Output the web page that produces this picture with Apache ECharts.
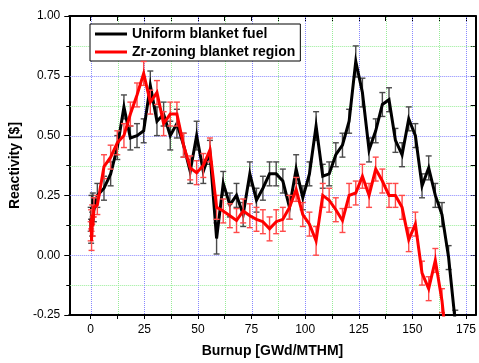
<!DOCTYPE html>
<html>
<head>
<meta charset="utf-8">
<style>
  html, body { margin: 0; padding: 0; background: #fff; }
  #chart { width: 479px; height: 363px; }
</style>
<script src="https://cdn.jsdelivr.net/npm/echarts@6/dist/echarts.min.js"></script>
</head>
<body>
<div id="chart"></div>
<script>
// ---- data ----
const burnup = [0, 0.2, 0.4, 0.7, 1.0, 1.5,
  3.1, 6.2, 9.3, 12.4, 15.5, 18.5, 21.6, 24.7, 27.8, 30.9,
  34.0, 37.1, 40.2, 43.3, 46.4, 49.4, 52.5, 55.6, 58.7, 61.8,
  64.9, 68.0, 71.1, 74.2, 77.3, 80.3, 83.4, 86.5, 89.6, 92.7,
  95.8, 98.9, 102.0, 105.1, 108.2, 111.2, 114.3, 117.4, 120.5, 123.6,
  126.7, 129.8, 132.9, 136.0, 139.1, 142.1, 145.2, 148.3, 151.4, 154.5,
  157.6, 160.7, 163.8, 166.9, 170.0];

const uniformFuel = [0.15, 0.10, 0.20, 0.13, 0.21, 0.19,
  0.25, 0.28, 0.34, 0.45, 0.62, 0.49, 0.50, 0.52, 0.71, 0.56,
  0.59, 0.50, 0.55, 0.46, 0.35, 0.50, 0.35, 0.43, 0.07, 0.30,
  0.21, 0.25, 0.17, 0.34, 0.23, 0.28, 0.34, 0.34, 0.31, 0.20,
  0.36, 0.24, 0.34, 0.54, 0.33, 0.34, 0.42, 0.46, 0.56, 0.81,
  0.68, 0.44, 0.52, 0.63, 0.65, 0.48, 0.42, 0.57, 0.50, 0.29,
  0.365, 0.25, 0.17, -0.01, -0.28];

const uniformErr = [0.05, 0.05, 0.05, 0.05, 0.05, 0.05,
  0.05, 0.05, 0.05, 0.05, 0.05, 0.05, 0.05, 0.05, 0.06, 0.06,
  0.05, 0.06, 0.06, 0.05, 0.05, 0.06, 0.05, 0.05, 0.065, 0.05,
  0.05, 0.05, 0.05, 0.05, 0.05, 0.05, 0.05, 0.05, 0.05, 0.05,
  0.06, 0.05, 0.05, 0.06, 0.05, 0.05, 0.05, 0.05, 0.05, 0.065,
  0.06, 0.05, 0.05, 0.05, 0.05, 0.05, 0.05, 0.05, 0.05, 0.05,
  0.05, 0.05, 0.05, 0.05, 0.05];

const zrZoning = [0.10, 0.15, 0.06, 0.17, 0.12, 0.20,
  0.21, 0.37, 0.41, 0.47, 0.50, 0.59, 0.67, 0.76, 0.64, 0.68,
  0.55, 0.59, 0.59, 0.46, 0.365, 0.345, 0.375, 0.44, 0.20, 0.185,
  0.165, 0.145, 0.185, 0.165, 0.15, 0.14, 0.11, 0.14, 0.15, 0.20,
  0.275, 0.17, 0.13, 0.06, 0.25, 0.23, 0.19, 0.145, 0.25, 0.26,
  0.33, 0.25, 0.36, 0.31, 0.25, 0.25, 0.20, 0.065, 0.13, -0.075,
  -0.14, -0.022, -0.19, -0.45];

const zrErr = [0.04, 0.04, 0.04, 0.04, 0.04, 0.04,
  0.04, 0.05, 0.05, 0.05, 0.05, 0.05, 0.05, 0.05, 0.05, 0.05,
  0.05, 0.05, 0.05, 0.05, 0.05, 0.05, 0.05, 0.05, 0.05, 0.05,
  0.05, 0.05, 0.05, 0.05, 0.05, 0.05, 0.05, 0.05, 0.05, 0.05,
  0.05, 0.05, 0.05, 0.06, 0.05, 0.05, 0.05, 0.05, 0.05, 0.05,
  0.05, 0.05, 0.05, 0.05, 0.05, 0.05, 0.05, 0.05, 0.05, 0.05,
  0.05, 0.05, 0.05, 0.05];

const xMajorTicks = [0, 25, 50, 75, 100, 125, 150, 175];
const xMinorTicks = [12.5, 37.5, 62.5, 87.5, 112.5, 137.5, 162.5];
const xAllTicks = [0, 12.5, 25, 37.5, 50, 62.5, 75, 87.5, 100, 112.5, 125, 137.5, 150, 162.5, 175];
const yMajorTicks = [-0.25, 0, 0.25, 0.5, 0.75, 1.0];
const yMinorTicks = [-0.125, 0.125, 0.375, 0.625, 0.875];

const seriesNames = ['Uniform blanket fuel', 'Zr-zoning blanket region'];

// ---- build chart ----
const FONT = 'Liberation Sans, Arial, sans-serif';
const BLUE = '#8888ff';
const GREEN = '#98ec98';
const XMIN = -10, XMAX = 179.5;

function pairs(xs, ys) { return ys.map((v, i) => [xs[i], v]); }
function errRows(xs, ys, es) { return ys.map((v, i) => [xs[i], v - es[i], v + es[i]]); }

function errRenderer(color) {
  return function (params, api) {
    const x = api.value(0);
    const lo = api.coord([x, api.value(1)]);
    const hi = api.coord([x, api.value(2)]);
    const c = 3;
    const st = { stroke: color, lineWidth: 1.4 };
    return {
      type: 'group',
      children: [
        { type: 'line', shape: { x1: lo[0], y1: lo[1], x2: hi[0], y2: hi[1] }, style: st },
        { type: 'line', shape: { x1: lo[0] - c, y1: lo[1], x2: lo[0] + c, y2: lo[1] }, style: st },
        { type: 'line', shape: { x1: hi[0] - c, y1: hi[1], x2: hi[0] + c, y2: hi[1] }, style: st }
      ]
    };
  };
}

// dotted grid lines placed through the axes' scales, snapped to pixel centres
function vGrid(name, values, color) {
  return {
    type: 'custom', name: name, silent: true, z: 1, clip: false,
    data: values.map(v => [v, 0]), encode: { x: 0, y: 1 },
    renderItem: function (params, api) {
      const cs = params.coordSys;
      const p = api.coord([api.value(0), 0]);
      const x = Math.round(p[0]) + 0.5;
      return { type: 'line', shape: { x1: x, y1: cs.y + 1, x2: x, y2: cs.y + cs.height - 1 },
        style: { stroke: color, lineWidth: 1, lineDash: [1, 1] } };
    }
  };
}
function hGrid(name, values, color) {
  return {
    type: 'custom', name: name, silent: true, z: 1, clip: false,
    data: values.map(v => [0, v]), encode: { x: 0, y: 1 },
    renderItem: function (params, api) {
      const cs = params.coordSys;
      const p = api.coord([0, api.value(1)]);
      const y = Math.round(p[1]) + 0.5;
      return { type: 'line', shape: { x1: cs.x + 1, y1: y, x2: cs.x + cs.width - 1, y2: y },
        style: { stroke: color, lineWidth: 1, lineDash: [1, 1] } };
    }
  };
}

const axisLineStyle = { show: true, onZero: false, lineStyle: { color: '#000', width: 2 } };

const chart = echarts.init(document.getElementById('chart'), null, { renderer: 'canvas' });
chart.setOption({
  animation: false,
  backgroundColor: '#fff',
  textStyle: { fontFamily: FONT },
  grid: { left: 69, right: 1, top: 16, bottom: 45, containLabel: false },
  legend: {
    orient: 'vertical',
    left: 90, top: 24,
    padding: [3, 5, 2, 5],
    itemWidth: 32, itemHeight: 14, itemGap: 4,
    backgroundColor: '#fff',
    borderColor: '#000', borderWidth: 1, borderRadius: 0,
    icon: 'path://M0 0H32V3H0Z',
    data: seriesNames,
    textStyle: { fontFamily: FONT, fontWeight: 'bold', fontSize: 14, color: '#000' }
  },
  xAxis: [
    {
      type: 'value', position: 'bottom', min: XMIN, max: XMAX,
      name: 'Burnup [GWd/MTHM]', nameLocation: 'middle', nameGap: 29,
      nameTextStyle: { fontFamily: FONT, fontWeight: 'bold', fontSize: 14, color: '#000' },
      axisLine: axisLineStyle,
      axisTick: { show: true, inside: false, length: 4, interval: 0, customValues: xAllTicks, lineStyle: { color: '#000', width: 1 } },
      axisLabel: { show: true, customValues: xMajorTicks, margin: 9, fontFamily: FONT, fontSize: 12, color: '#000' },
      splitLine: { show: false }
    },
    {
      type: 'value', position: 'top', min: XMIN, max: XMAX,
      axisLine: axisLineStyle,
      axisTick: { show: true, inside: true, length: 5, interval: 0, customValues: xAllTicks, lineStyle: { color: '#000', width: 1 } },
      axisLabel: { show: false },
      splitLine: { show: false }
    }
  ],
  yAxis: [
    {
      type: 'value', position: 'left', min: -0.25, max: 1.0, interval: 0.25,
      name: 'Reactivity [$]', nameLocation: 'middle', nameGap: 40,
      nameTextStyle: { fontFamily: FONT, fontWeight: 'bold', fontSize: 14, color: '#000' },
      axisLine: axisLineStyle,
      axisTick: { show: true, inside: false, length: 5, lineStyle: { color: '#000', width: 1 } },
      minorTick: { show: true, splitNumber: 2, length: 3, lineStyle: { color: '#000', width: 1 } },
      axisLabel: { show: true, margin: 9, fontFamily: FONT, fontSize: 12, color: '#000',
        formatter: v => v.toFixed(2) },
      splitLine: { show: false },
      minorSplitLine: { show: false }
    },
    {
      type: 'value', position: 'right', min: -0.25, max: 1.0, interval: 0.25,
      axisLine: axisLineStyle,
      axisTick: { show: true, inside: true, length: 5, lineStyle: { color: '#000', width: 1 } },
      minorTick: { show: true, splitNumber: 2, length: 5, lineStyle: { color: '#000', width: 1 } },
      axisLabel: { show: false },
      splitLine: { show: false }
    }
  ],
  series: [
    hGrid('grid-y-minor', yMinorTicks, GREEN),
    vGrid('grid-x-minor', xMinorTicks, GREEN),
    hGrid('grid-y-major', yMajorTicks.slice(1, -1), BLUE),
    vGrid('grid-x-major', xMajorTicks, BLUE),
    {
      type: 'custom', name: 'err-uniform', renderItem: errRenderer('#4a4a4a'),
      data: errRows(burnup, uniformFuel, uniformErr),
      encode: { x: 0, y: [1, 2] }, clip: true, z: 2, silent: true
    },
    {
      type: 'line', name: seriesNames[0], data: pairs(burnup, uniformFuel),
      showSymbol: false, symbol: 'none', clip: true, z: 3,
      lineStyle: { color: '#000', width: 3, join: 'miter' }, itemStyle: { color: '#000' }
    },
    {
      type: 'custom', name: 'err-zr', renderItem: errRenderer('#ff4a4a'),
      data: errRows(burnup, zrZoning, zrErr),
      encode: { x: 0, y: [1, 2] }, clip: true, z: 4, silent: true
    },
    {
      type: 'line', name: seriesNames[1], data: pairs(burnup, zrZoning),
      showSymbol: false, symbol: 'none', clip: true, z: 5,
      lineStyle: { color: '#ff0000', width: 3, join: 'miter' }, itemStyle: { color: '#ff0000' }
    }
  ]
});
</script>
</body>
</html>
